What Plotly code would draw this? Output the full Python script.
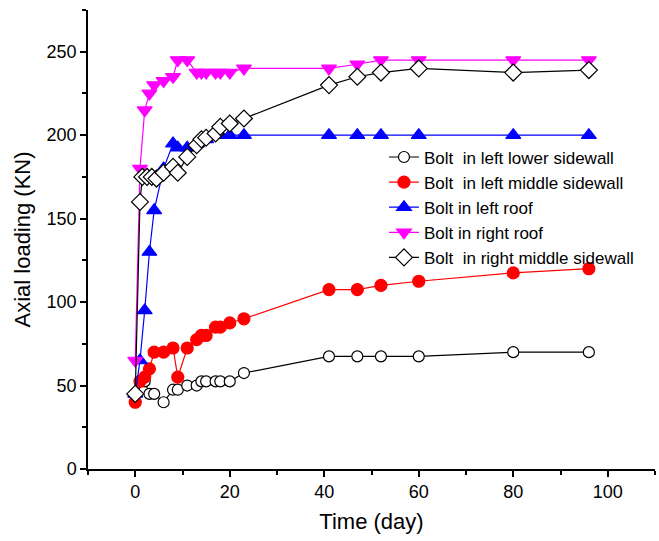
import plotly.graph_objects as go

# Monitoring days
days = [0, 1, 2, 3, 4, 6, 8, 9, 11, 13, 14, 15, 17, 18, 20, 23, 41, 47, 52, 60, 80, 96]
days_lower = [0, 2, 3, 4, 6, 8, 9, 11, 13, 14, 15, 17, 18, 20, 23, 41, 47, 52, 60, 80, 96]
days_right_mid = [0, 1, 1.5, 2.5, 3.5, 4.5, 6, 8, 9, 11, 13, 14, 15, 17, 18, 20, 23, 41, 47, 52, 60, 80, 96]

# Axial loading (KN)
left_lower = [45, 52.5, 45, 45, 40, 47.5, 47.5, 50, 50, 52.5, 52.5, 52.5, 52.5, 52.5, 57.5,
              67.5, 67.5, 67.5, 67.5, 70, 70]
left_middle = [40, 52.5, 55, 60, 70, 70, 72.5, 55, 72.5, 77.5, 80, 80, 85, 85, 87.5, 90,
               107.5, 107.5, 110, 112.5, 117.5, 120]
left_roof = [45, 65, 95, 130, 155, 180, 195, 192.5, 192.5, 195, 197.5, 197.5, 200, 200, 200, 200,
             200, 200, 200, 200, 200, 200]
right_roof = [65, 180, 215, 225, 230, 232.5, 235, 245, 245, 237.5, 237.5, 237.5, 237.5, 237.5, 237.5, 240,
              240, 242.5, 245, 245, 245, 245]
right_middle = [45, 160, 175, 175, 175, 174, 177.5, 181, 177.5, 187, 194, 197.5, 198.5, 201, 205, 207, 210,
                230, 235, 237.5, 240, 237.5, 239]

names = [
    "Bolt\u00a0 in left lower sidewall",
    "Bolt\u00a0 in left middle sidewall",
    "Bolt in left roof",
    "Bolt in right roof",
    "Bolt\u00a0 in right middle sidewall",
]

fig = go.Figure()

def add(x, y, name, color, symbol, fill, size):
    fig.add_trace(go.Scatter(
        x=x, y=y, name=name, mode="lines+markers",
        line=dict(color=color, width=1.2),
        marker=dict(symbol=symbol, size=size, color=fill,
                    line=dict(color=color if fill != "white" else "black", width=1.2)),
    ))

add(days_lower, left_lower, names[0], "black", "circle", "white", 11)
add(days, left_middle, names[1], "red", "circle", "red", 12)
add(days, left_roof, names[2], "blue", "triangle-up", "blue", 13)
add(days, right_roof, names[3], "magenta", "triangle-down", "magenta", 13)
add(days_right_mid, right_middle, names[4], "black", "diamond", "white", 13)

base_font = dict(family="Liberation Sans, Arial, sans-serif", size=18, color="black")

fig.update_layout(
    width=659, height=541,
    margin=dict(l=88, r=4, t=10, b=72),
    paper_bgcolor="white", plot_bgcolor="white",
    font=base_font,
    showlegend=True,
    legend=dict(x=0.522, y=0.718, xanchor="left", yanchor="top",
                bgcolor="rgba(0,0,0,0)", font=dict(size=17),
                tracegroupgap=0),
    xaxis=dict(
        range=[-10, 110], dtick=20, tick0=0,
        showline=True, linecolor="black", linewidth=1.5,
        ticks="outside", ticklen=6, tickwidth=1.5, tickcolor="black",
        tickfont=dict(size=18),
        minor=dict(dtick=10, tick0=0, ticks="outside", ticklen=4, tickcolor="black", tickwidth=1.5),
        showgrid=False, zeroline=False,
        title=dict(text="Time (day)", font=dict(size=22), standoff=12),
    ),
    yaxis=dict(
        range=[0, 275], dtick=50, tick0=0,
        showline=True, linecolor="black", linewidth=1.5,
        ticks="outside", ticklen=6, tickwidth=1.5, tickcolor="black",
        tickfont=dict(size=18),
        minor=dict(dtick=25, tick0=0, ticks="outside", ticklen=4, tickcolor="black", tickwidth=1.5),
        showgrid=False, zeroline=False,
        title=dict(text="Axial loading (KN)", font=dict(size=22), standoff=10),
    ),
)

fig.write_html("out.html")
